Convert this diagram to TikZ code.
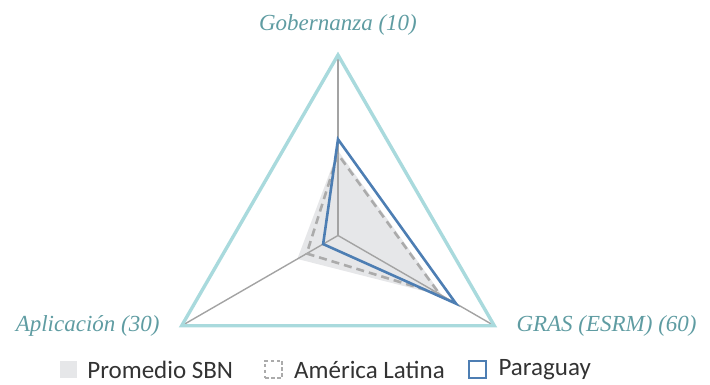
\documentclass[tikz,border=0pt]{standalone}
\usepackage{fontspec}
\setmainfont{Liberation Serif}
\setsansfont{Carlito}
\usetikzlibrary{positioning}
\definecolor{RadarTeal}{HTML}{A9DADD}
\definecolor{LabelTeal}{HTML}{5F9CA2}
\definecolor{AxisGrey}{HTML}{A3A3A3}
\definecolor{FillGrey}{HTML}{E6E7E9}
\definecolor{DashGrey}{HTML}{ABABAB}
\definecolor{ParaBlue}{HTML}{4D7EB3}
\tikzset{
        axis label/.style={font=\fontsize{23}{23}\selectfont\itshape, text=LabelTeal, inner sep=0pt},
        legend text/.style={font=\sffamily\fontsize{25}{25}\selectfont, text=black!80, inner sep=0pt},
        legend box/.style={minimum size=17pt, inner sep=0pt},
        dash line/.style={DashGrey, line width=2.6pt, dash pattern=on 8pt off 5pt},
    }
\def\rad{180.5}

\begin{document}
\begin{tikzpicture}[x = 1pt, y = 1pt]
                \useasboundingbox (-338,-149.5) rectangle (372,235.5);
                \coordinate (O) at (0,0);
                \foreach \a/\n in {90/G,210/A,330/R}
                {
                    \coordinate (\n) at (\a:\rad);
                }
                % Promedio SBN
                \path[fill=FillGrey] (90:{0.47*\rad}) -- (210:{0.26*\rad}) -- (330:{0.67*\rad}) -- cycle;
                \foreach \n in {G,A,R}
                {
                    \draw[AxisGrey, line width=1.4pt] (O) -- (\n);
                }
                % America Latina
                \draw[dash line] (90:{0.45*\rad}) -- (210:{0.2*\rad}) -- (330:{0.65*\rad}) -- cycle;
                % Paraguay
                \draw[ParaBlue, line width=2.6pt] (90:{0.533*\rad}) -- (210:{0.095*\rad}) -- (330:{0.755*\rad}) -- cycle;
                \draw[RadarTeal, line width=3.4pt] (G) -- (A) -- (R) -- cycle;
                \node[axis label] (govlabel) at (0,210.5) {Gobernanza (10)};
                \node[axis label, left=22pt of A] (aplabel) {Aplicación (30)};
                \node[axis label, right=22pt of R] (graslabel) {GRAS (ESRM) (60)};
                % legend
                \node[legend box, fill=FillGrey] (sbnbox) at (-269.5,-134) {};
                \node[legend text, right=10pt of sbnbox] (sbntext) {Promedio SBN};
                \node[legend box, draw=DashGrey, line width=1.6pt, dash pattern=on 3.5pt off 2.5pt, right=31pt of sbntext] (albox) {};
                \node[legend text, right=11pt of albox] (altext) {América Latina};
                \node[legend box, draw=ParaBlue, line width=2.4pt, right=23pt of altext] (pybox) {};
                \node[legend text, right=11pt of pybox] (pytext) {Paraguay};
            \end{tikzpicture}
\end{document}
